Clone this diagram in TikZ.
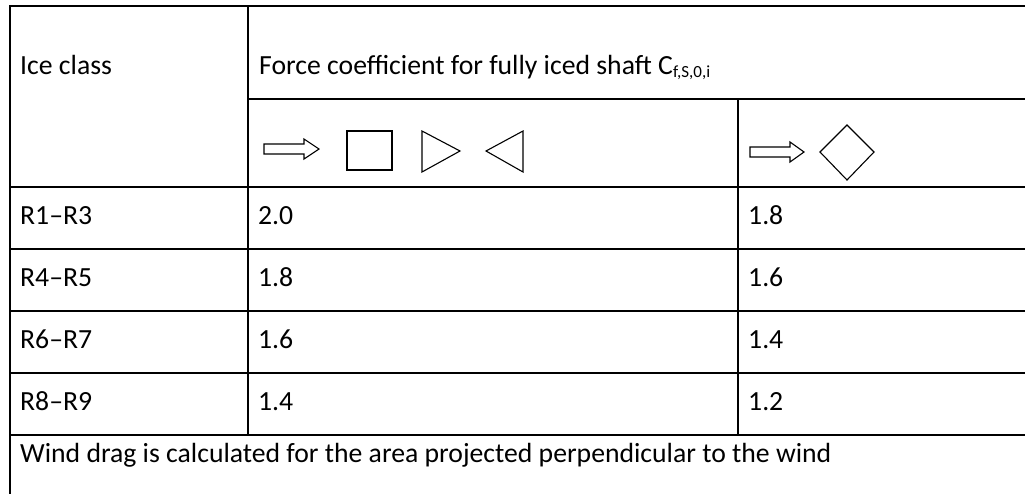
\documentclass[tikz,border=0pt]{standalone}
\usepackage{fontspec}
\setmainfont{Carlito}
\begin{document}
\begin{tikzpicture}[x=1pt,y=-1pt,
  grid/.style={line width=2pt, black},
  sym/.style={line width=1.1pt, black, line join=miter},
  cell/.style={anchor=base west, inner sep=0pt, font=\fontsize{27.7}{33}\selectfont}]
\useasboundingbox (0,0) rectangle (1025,493);
\clip (0,0) rectangle (1025,493);
% horizontal rules
\draw[grid] (9,6) -- (1030,6);
\draw[grid] (248,99) -- (1030,99);
\draw[grid] (10,187) -- (1030,187);
\draw[grid] (10,249) -- (1030,249);
\draw[grid] (10,311) -- (1030,311);
\draw[grid] (10,373) -- (1030,373);
\draw[grid] (10,435) -- (1030,435);
% vertical rules
\draw[grid] (10,5) -- (10,500);
\draw[grid] (248,6) -- (248,435);
\draw[grid] (738,99) -- (738,435);
% header texts
\node[cell] (ice) at (20,74) {Ice class};
\node[cell] (force) at (259,74) {Force coefficient for fully iced shaft C\raisebox{-3.5pt}{\fontsize{17}{17}\selectfont f,S,0,i}};
% symbols, column 2
\draw[sym] (264,144) -- (304,144) -- (304,139) -- (319,149) -- (304,159) -- (304,154) -- (264,154) -- cycle;
\draw[sym] (347,131) rectangle (392,170);
\draw[sym] (422,131) -- (460,151) -- (422,172) -- cycle;
\draw[sym] (523,131) -- (486,151) -- (523,172) -- cycle;
% symbols, column 3
\draw[sym] (750,147) -- (790,147) -- (790,142) -- (804,152) -- (790,162) -- (790,157) -- (750,157) -- cycle;
\draw[sym] (820,152) -- (847,125) -- (874,152) -- (847,180) -- cycle;
% data rows
\node[cell] (r1) at (20,224) {R1–R3};
\node[cell] (r1a) at (258,224) {2.0};
\node[cell] (r1b) at (748,224) {1.8};
\node[cell] (r2) at (20,286) {R4–R5};
\node[cell] (r2a) at (258,286) {1.8};
\node[cell] (r2b) at (748,286) {1.6};
\node[cell] (r3) at (20,348) {R6–R7};
\node[cell] (r3a) at (258,348) {1.6};
\node[cell] (r3b) at (748,348) {1.4};
\node[cell] (r4) at (20,410) {R8–R9};
\node[cell] (r4a) at (258,410) {1.4};
\node[cell] (r4b) at (748,410) {1.2};
% footer
\node[cell] (foot) at (20,462) {Wind drag is calculated for the area projected perpendicular to the wind};
\end{tikzpicture}
\end{document}
